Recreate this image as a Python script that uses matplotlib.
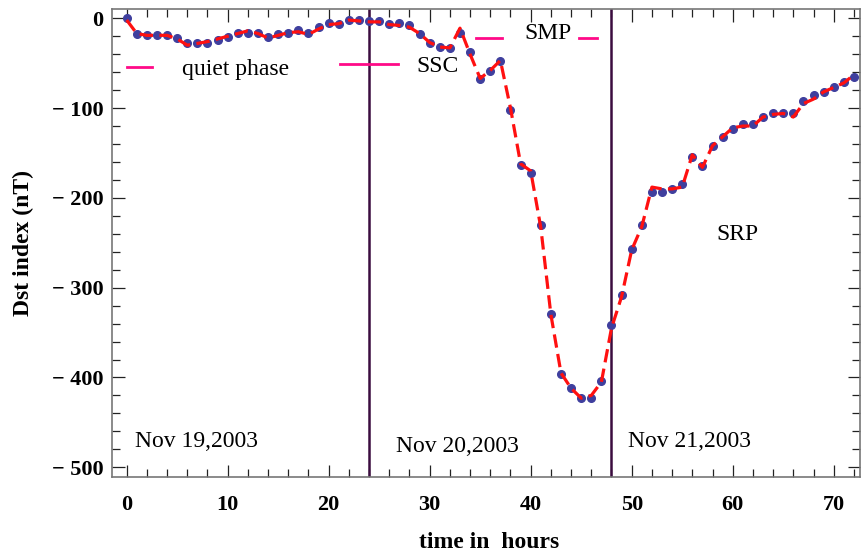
import matplotlib
matplotlib.use("Agg")
import matplotlib.pyplot as plt
from matplotlib.ticker import MultipleLocator, FuncFormatter

# ---- data ----
hours = list(range(0, 73))
dst_observed = [0, -17, -19, -19, -19, -22, -27, -27, -27, -24,
                -21, -16, -16, -16, -21, -18, -16, -13, -16, -10,
                -5, -6, -2, -2, -3, -3, -6, -5, -7, -17,
                -27, -32, -33, -16, -38, -68, -59, -48, -102, -163,
                -172, -230, -329, -396, -412, -423, -423, -404, -342, -308,
                -257, -230, -193, -193, -190, -185, -155, -165, -142, -132,
                -123, -118, -118, -110, -105, -105, -106, -92, -86, -82,
                -76, -71, -65]
dst_model = [-2, -17, -19, -19, -19, -23, -30, -28, -26, -23,
             -20, -17, -14, -17, -22, -19, -16, -15, -18, -12,
             -7, -6, -2, -3, -4, -4, -7, -8, -10, -17,
             -27, -32, -33, -11, -40, -67, -58, -47, -100, -162,
             -170, -233, -330, -395, -412, -423, -420, -405, -345, -310,
             -258, -232, -188, -190, -190, -188, -152, -166, -142, -132,
             -122, -120, -120, -110, -107, -106, -110, -95, -90, -82,
             -77, -72, -63]
phase_boundaries = [24, 48]
date_labels = ["Nov 19,2003", "Nov 20,2003", "Nov 21,2003"]
date_pos = [(0.8, -471), (26.7, -477), (49.6, -471)]

SERIF = ["Liberation Serif", "DejaVu Serif"]

fig = plt.figure(figsize=(8.61, 5.56), dpi=100)
ax = fig.add_axes([0.130, 0.1426, 0.8688, 0.8407])

ax.plot(hours, dst_observed, 'o', color='#3f3f9e', markersize=5.5, zorder=3)
ax.plot(hours, dst_model, '--', color='#ff1010', linewidth=2.3,
        dashes=(4.2, 2.0), zorder=4)

for xb in phase_boundaries:
    ax.axvline(xb, color='#3b0c3f', linewidth=1.8, zorder=2)

pink = '#ff0a87'
# legend-like annotations
ax.plot([0.0, 2.5], [-53.8, -53.8], color=pink, lw=2.0)
ax.text(5.5, -57.6, "quiet phase", family=SERIF, fontsize=17, va='center', ha='left')
ax.plot([21.1, 26.9], [-51, -51], color=pink, lw=2.0)
ax.text(28.7, -54, "SSC", family=SERIF, fontsize=17, va='center', ha='left')
ax.plot([34.6, 37.2], [-21.6, -21.6], color=pink, lw=2.0)
ax.text(39.4, -16.7, "SMP", family=SERIF, fontsize=17, va='center', ha='left')
ax.plot([44.8, 46.6], [-21.6, -21.6], color=pink, lw=2.0)
ax.text(58.4, -241, "SRP", family=SERIF, fontsize=17, va='center', ha='left')

for lbl, (xp, yp) in zip(date_labels, date_pos):
    ax.text(xp, yp, lbl, family=SERIF, fontsize=17, va='center', ha='left')

ax.set_xlim(-1.46, 72.6)
ax.set_ylim(-510.5, 10)

ax.xaxis.set_major_locator(MultipleLocator(10))
ax.xaxis.set_minor_locator(MultipleLocator(2))
ax.yaxis.set_major_locator(MultipleLocator(100))
ax.yaxis.set_minor_locator(MultipleLocator(20))

def yfmt(v, pos):
    v = int(round(v))
    return "0" if v == 0 else ("\u2212 " + str(abs(v)) if v < 0 else str(v))
ax.yaxis.set_major_formatter(FuncFormatter(yfmt))

ax.tick_params(which='both', direction='in', top=True, right=True,
               labeltop=False, labelright=False, color='#222222', width=0.9)
ax.tick_params(which='major', length=9)
ax.tick_params(which='minor', length=5.5)
ax.tick_params(axis='x', which='major', pad=13)
ax.tick_params(axis='y', which='major', pad=6)

for lab in ax.get_xticklabels() + ax.get_yticklabels():
    lab.set_fontfamily(SERIF)
    lab.set_fontweight('bold')
    lab.set_fontsize(16)

for sp in ax.spines.values():
    sp.set_color('#777777')
    sp.set_linewidth(1.2)

fig.text(0.568, 1 - 543 / 556, "time in  hours", family=SERIF, fontsize=17,
         fontweight='bold', ha='center', va='center')
fig.text(23 / 861, 1 - 243 / 556, "Dst index (nT)", family=SERIF, fontsize=17,
         fontweight='bold', ha='center', va='center', rotation=90)

fig.savefig("out.png", dpi=100)
